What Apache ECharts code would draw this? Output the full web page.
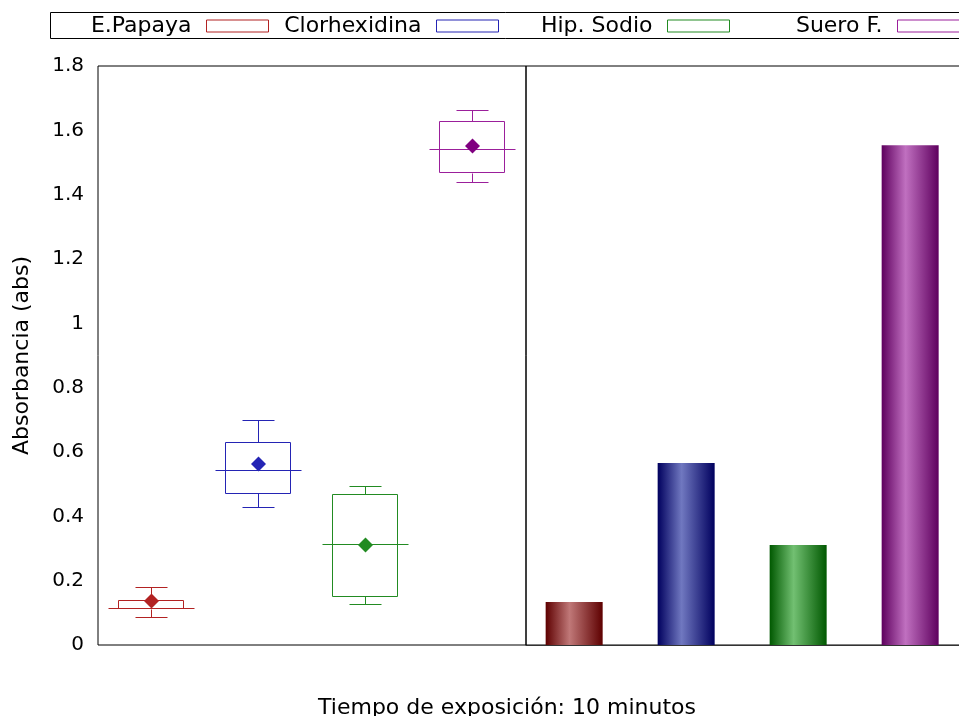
<!DOCTYPE html>
<html>
<head>
<meta charset="utf-8">
<script src="https://cdn.jsdelivr.net/npm/echarts@6/dist/echarts.min.js"></script>
<style>html,body{margin:0;padding:0;background:#fff;}#c{width:959px;height:716px;}</style>
</head>
<body>
<div id="c"></div>
<script>
const categories = ['E.Papaya', 'Clorhexidina', 'Hip. Sodio', 'Suero F.'];
const whiskerLow = [0.087, 0.429, 0.127, 1.439];
const q1Values = [0.111, 0.472, 0.152, 1.467];
const medianValues = [0.112, 0.541, 0.311, 1.539];
const q3Values = [0.137, 0.631, 0.469, 1.626];
const whiskerHigh = [0.180, 0.699, 0.494, 1.663];
const meanValues = [0.137, 0.563, 0.311, 1.551];
const barValues = [0.134, 0.566, 0.311, 1.554];
const yTicks = [0, 0.2, 0.4, 0.6, 0.8, 1, 1.2, 1.4, 1.6, 1.8];

const lineColors = ['#b22222', '#2424b4', '#228b22', '#9b1f9b'];
const meanColors = ['#b22222', '#2424b4', '#228b22', '#800080'];
const barDark = ['#5e0000', '#00005e', '#005800', '#5e005e'];
const barLight = ['#c07878', '#7078c0', '#72c072', '#c070c0'];
const legendRight = [690, 460, 229, -1];

const chart = echarts.init(document.getElementById('c'));
const FONT = 'DejaVu Sans';
const FS = 22;

function crisp(v) { return Math.round(v - 0.5) + 0.5; }

function boxRender(params, api) {
  const cat = api.value(0);
  const lo = api.coord([cat, api.value(1)]);
  const q1 = api.coord([cat, api.value(2)]);
  const med = api.coord([cat, api.value(3)]);
  const q3 = api.coord([cat, api.value(4)]);
  const hi = api.coord([cat, api.value(5)]);
  const band = api.size([1, 0])[0];
  const cx = crisp(lo[0]);
  const bh = band * 0.305, mh = band * 0.405, ch = band * 0.15;
  const st = { stroke: api.visual('color'), lineWidth: 1, fill: null };
  const L = (x1, y1, x2, y2) => ({ type: 'line', shape: { x1: crisp(x1), y1: crisp(y1), x2: crisp(x2), y2: crisp(y2) }, style: st });
  return {
    type: 'group',
    children: [
      { type: 'rect', shape: { x: crisp(cx - bh), y: crisp(q3[1]), width: Math.round(2 * bh), height: Math.round(q1[1] - q3[1]) }, style: st },
      L(cx - mh, med[1], cx + mh, med[1]),
      L(cx, q3[1], cx, hi[1]),
      L(cx, q1[1], cx, lo[1]),
      L(cx - ch, hi[1], cx + ch, hi[1]),
      L(cx - ch, lo[1], cx + ch, lo[1])
    ]
  };
}

const series = [];
categories.forEach((name, i) => {
  series.push({
    name: name, type: 'custom', xAxisIndex: 0, yAxisIndex: 0,
    itemStyle: { color: lineColors[i] },
    renderItem: boxRender,
    encode: { x: 0, y: [1, 2, 3, 4, 5] },
    data: [[i, whiskerLow[i], q1Values[i], medianValues[i], q3Values[i], whiskerHigh[i]]],
    z: 2
  });
  series.push({
    name: name, type: 'scatter', xAxisIndex: 0, yAxisIndex: 0,
    symbol: 'diamond', symbolSize: 15,
    itemStyle: { color: meanColors[i], opacity: 1 },
    data: [[i, meanValues[i]]], z: 3
  });
  series.push({
    name: name, type: 'bar', xAxisIndex: 1, yAxisIndex: 1,
    barWidth: 57, barGap: '-100%',
    itemStyle: {
      color: new echarts.graphic.LinearGradient(0, 0, 1, 0, [
        { offset: 0, color: barDark[i] },
        { offset: 0.42, color: barLight[i] },
        { offset: 1, color: barDark[i] }
      ])
    },
    data: [[i, barValues[i]]]
  });
});

const legends = categories.map((name, i) => ({
  right: legendRight[i], top: 15, padding: 0,
  orient: 'horizontal', align: 'right',
  itemWidth: 62, itemHeight: 12,
  selectedMode: true,
  textStyle: { fontFamily: FONT, fontSize: FS, color: '#000', padding: [0, 10, 0, 0] },
  data: [{ name: name, icon: 'rect', itemStyle: { color: '#fff', borderColor: lineColors[i], borderWidth: 1 } }]
}));

chart.setOption({
  animation: false,
  backgroundColor: '#fff',
  textStyle: { fontFamily: FONT },
  legend: legends,
  grid: [
    { left: 98, top: 66, width: 428, height: 579, show: true, borderColor: '#000', borderWidth: 1, backgroundColor: 'transparent', outerBoundsMode: 'none' },
    { left: 526, top: 66, width: 448, height: 579, show: true, borderColor: '#000', borderWidth: 1, backgroundColor: 'transparent', outerBoundsMode: 'none' }
  ],
  xAxis: [
    { type: 'category', gridIndex: 0, data: categories, axisLine: { show: false }, axisTick: { show: false }, axisLabel: { show: false }, splitLine: { show: false } },
    { type: 'value', gridIndex: 1, min: -0.43, max: 3.57, axisLine: { show: true, onZero: false, lineStyle: { color: '#333', width: 1 } }, axisTick: { show: false }, axisLabel: { show: false }, splitLine: { show: false } }
  ],
  yAxis: [
    {
      type: 'value', gridIndex: 0, min: 0, max: 1.8, interval: 0.2,
      name: 'Absorbancia (abs)', nameLocation: 'middle', nameGap: 65,
      nameTextStyle: { fontFamily: FONT, fontSize: FS, color: '#000' },
      axisLine: { show: false }, axisTick: { show: false }, splitLine: { show: false },
      axisLabel: {
        fontFamily: FONT, fontSize: FS - 2, color: '#000', margin: 14, padding: [4, 0, 0, 0],
        formatter: v => { const t = yTicks.find(k => Math.abs(k - v) < 1e-9); return String(t !== undefined ? t : v); }
      }
    },
    { type: 'value', gridIndex: 1, min: 0, max: 1.8, interval: 0.2, show: false, splitLine: { show: false } }
  ],
  graphic: [
    { type: 'rect', shape: { x: 50.5, y: 12.5, width: 930, height: 26 }, style: { fill: null, stroke: '#000', lineWidth: 1 }, z: -1, silent: true },
    { type: 'text', x: 507, y: 708, style: { text: 'Tiempo de exposición: 10 minutos', fontFamily: FONT, fontSize: FS, fill: '#000', align: 'center', verticalAlign: 'middle' } }
  ],
  series: series
});
</script>
</body>
</html>
